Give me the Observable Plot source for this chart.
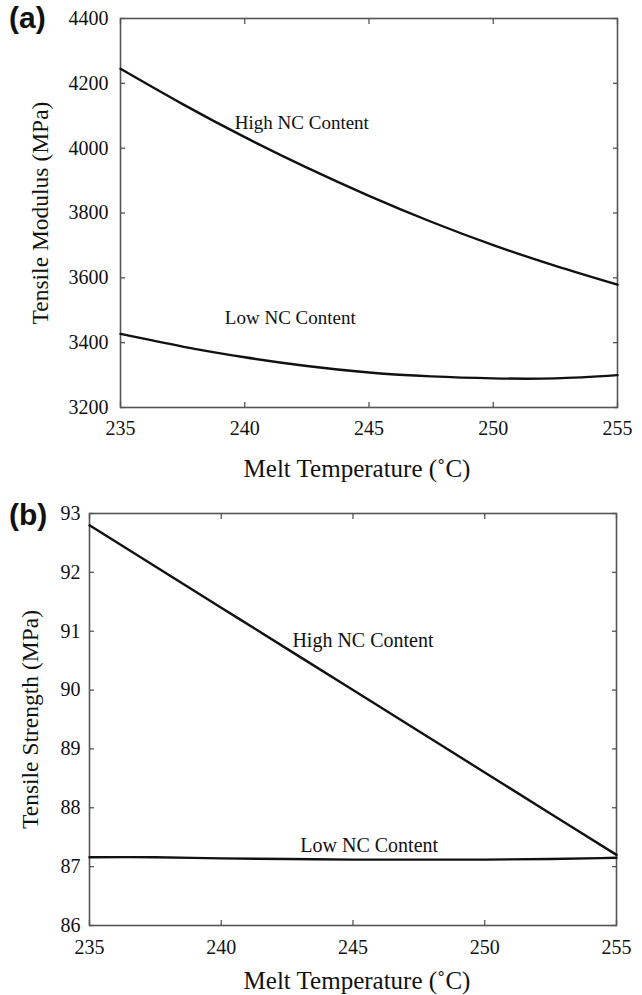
<!DOCTYPE html>
<html><head><meta charset="utf-8">
<script src="https://cdn.jsdelivr.net/npm/d3@7"></script>
<script src="https://cdn.jsdelivr.net/npm/@observablehq/plot@0.6"></script>
<style>
body{margin:0;background:#fff;}
#wrap{position:relative;width:642px;height:995px;overflow:hidden;}
.panel{position:absolute;left:0;}
#wrap svg, #wrap svg text, #wrap svg g{font-family:"Liberation Serif","Times New Roman",serif !important;}
.tag{position:absolute;z-index:2;font-family:"Liberation Sans",Arial,sans-serif;font-weight:bold;font-size:30px;line-height:34px;color:#111;}
</style></head><body>
<div id="wrap">
<div id="pa" class="panel" style="top:0px"></div>
<div id="pb" class="panel" style="top:495px"></div>
<div class="tag" style="left:9px;top:1px">(a)</div>
<div class="tag" style="left:9px;top:498px">(b)</div>
</div>
<script>
// ---- data ----
const temps = [235, 237.5, 240, 242.5, 245, 247.5, 250, 252.5, 255];
const modulusHigh = [4245, 4136, 4034, 3940, 3853, 3773, 3701, 3637, 3579];
const modulusLow = [3427, 3388, 3355, 3328, 3308, 3296, 3290, 3290, 3300];
const strengthHigh = [92.8, 92.1, 91.4, 90.7, 90.0, 89.3, 88.6, 87.9, 87.2];
const strengthLow = [87.16, 87.16, 87.14, 87.13, 87.12, 87.12, 87.12, 87.13, 87.15];
const xTicks = [235, 240, 245, 250, 255];
const modulusTicks = [3200, 3400, 3600, 3800, 4000, 4200, 4400];
const strengthTicks = [86, 87, 88, 89, 90, 91, 92, 93];
const seriesNames = ["High NC Content", "Low NC Content"];
const modulusNotes = [
  {t: 239.6, v: 4079, label: "High NC Content"},
  {t: 239.2, v: 3477, label: "Low NC Content"}
];
const strengthNotes = [
  {t: 242.7, v: 90.84, label: "High NC Content"},
  {t: 243.0, v: 87.35, label: "Low NC Content"}
];
const xTitle = "Melt Temperature (\u02DAC)";

const SERIF = "'Liberation Serif','Times New Roman',serif";

function rowsOf(high, low) {
  return [
    ...temps.map((t, i) => ({t, v: high[i], s: seriesNames[0]})),
    ...temps.map((t, i) => ({t, v: low[i], s: seriesNames[1]}))
  ];
}

function panel(o) {
  const fmt = d3.format("d");
  const tickOpts = {tickFormat: () => "", label: null, stroke: "#555", strokeWidth: 1.3};
  return Plot.plot({
    width: 642, height: o.height,
    marginTop: 18, marginRight: o.marginRight, marginBottom: o.marginBottom, marginLeft: o.marginLeft,
    style: {fontFamily: SERIF, fontSize: "20px", color: "#111", background: "transparent"},
    x: {domain: [235, 255]},
    y: {domain: [o.yTicks[0], o.yTicks[o.yTicks.length - 1]]},
    marks: [
      Plot.axisX({ticks: xTicks, tickFormat: fmt, tickSize: 0, tickPadding: o.xPad, label: null, fontSize: 20, fontFamily: SERIF, fill: "#111"}),
      Plot.axisY({ticks: o.yTicks, tickFormat: fmt, tickSize: 0, tickPadding: o.yPad, label: null, fontSize: 20, fontFamily: SERIF, fill: "#111"}),
      Plot.axisX({anchor: "bottom", ticks: xTicks, tickSize: 5, dy: -5, ...tickOpts}),
      Plot.axisX({anchor: "top", ticks: xTicks, tickSize: 5, dy: 5, ...tickOpts}),
      Plot.axisY({anchor: "left", ticks: o.yTicks, tickSize: 5, dx: 5, ...tickOpts}),
      Plot.axisY({anchor: "right", ticks: o.yTicks, tickSize: 5, dx: -5, ...tickOpts}),
      Plot.frame({stroke: "#555", strokeWidth: 1.6}),
      Plot.line(rowsOf(o.high, o.low), {x: "t", y: "v", z: "s", curve: "natural", stroke: "#111", strokeWidth: 2.4}),
      Plot.text(o.notes, {x: "t", y: "v", text: "label", textAnchor: "start", fontSize: o.noteSize, fontFamily: SERIF, fill: "#111"}),
      Plot.text([o.yTitle], {frameAnchor: "left", textAnchor: "middle", lineAnchor: "middle", rotate: -90, dx: o.yTitleDx, fontSize: 23.5, fontFamily: SERIF, fill: "#111"}),
      Plot.text([xTitle], {frameAnchor: "bottom", textAnchor: "middle", lineAnchor: "middle", dy: o.xTitleDy, dx: o.xTitleDx, fontSize: 25, fontFamily: SERIF, fill: "#111"})
    ]
  });
}

document.getElementById("pa").append(panel({
  height: 495, marginLeft: 120, marginRight: 25, marginBottom: 88,
  yTicks: modulusTicks, high: modulusHigh, low: modulusLow, notes: modulusNotes, noteSize: 19,
  xPad: 13, yPad: 12, yTitle: "Tensile Modulus (MPa)", yTitleDx: -80, xTitleDy: 61, xTitleDx: -12
}));
document.getElementById("pb").append(panel({
  height: 500, marginLeft: 89, marginRight: 26, marginBottom: 70,
  yTicks: strengthTicks, high: strengthHigh, low: strengthLow, notes: strengthNotes, noteSize: 20,
  xPad: 14, yPad: 9, yTitle: "Tensile Strength (MPa)", yTitleDx: -59, xTitleDy: 55, xTitleDx: 4
}));
</script>
</body></html>
